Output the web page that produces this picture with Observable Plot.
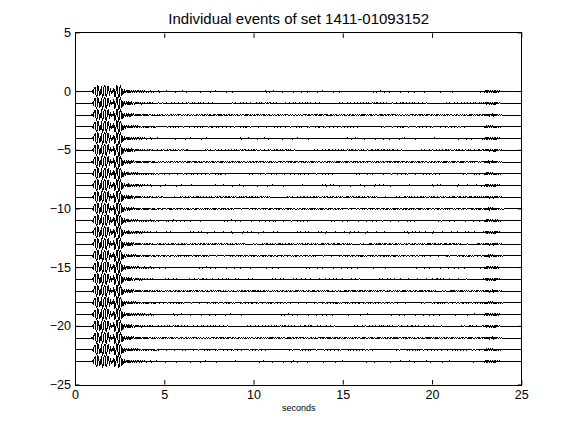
<!DOCTYPE html>
<html><head><meta charset="utf-8">
<script src="https://cdn.jsdelivr.net/npm/d3@7"></script>
<script src="https://cdn.jsdelivr.net/npm/@observablehq/plot@0.6"></script>
<style>body{margin:0;background:#fff} svg{display:block}</style>
</head><body><div id="chart"></div>
<script>
// ---- data ----
const traceOffsets = [0,-1,-2,-3,-4,-5,-6,-7,-8,-9,-10,-11,-12,-13,-14,-15,-16,-17,-18,-19,-20,-21,-22,-23];
const recordStart = 0;
const recordEnd = 24;
const axisEnd = 25;
const burstStart = 0.95, burstStep = 0.05;
const burstValues = [
  0.05, -0.15, 0.35, 0.4, -0.3, -0.45, 0.5, 0.3, -0.35,
  -0.2, 0.45, -0.5, -0.3, 0.4, 0.5, -0.35, -0.45, 0.4, 0.45,
  -0.3, 0.25, -0.15, 0.1, -0.08, 0.3, -0.45, -0.3, 0.5, 0.45, 
  -0.55, -0.4, 0.5, 0.3, -0.35, 0.15, -0.2, 0.15, -0.12, 0.12,
  -0.1, 0.14, -0.12, 0.08, -0.1, 0.12, -0.08, 0.1, -0.07, 0.08,
  -0.06, 0.09, -0.05, 0.07, -0.06, 0.05, -0.06, 0.05, -0.04, 0.06,
  -0.05, 0.04, -0.06, 0.05, -0.04, 0.03, 0.06, -0.05, 0.04, -0.05, 0.03, -0.04
];
const noiseStart = 4.55, noiseStep = 0.05;
const noiseValues = [
  0.03,-0.02,0.05,-0.04,0.01,0.04,-0.05,0.02,-0.01,0.03,
  -0.03,0.06,-0.02,0.00,0.04,-0.04,0.02,-0.03,0.05,-0.01,
  0.02,-0.05,0.03,0.01,-0.02,0.04,-0.03,0.02,-0.04,0.05,
  0.00,-0.02,0.03,-0.05,0.04,-0.01,0.02,-0.03,0.01,0.04,
  -0.02,0.03,-0.04,0.02,0.05,-0.03,0.01,-0.02,0.04,-0.05,
  0.02,0.03,-0.01,-0.04,0.05,-0.02,0.01,0.03,-0.03,0.02,
  -0.05,0.04,0.00,-0.02,0.03,-0.04,0.06,-0.01,0.02,-0.03,
  0.04,-0.02,0.01,0.05,-0.04,0.02,-0.01,0.03,-0.05,0.02,
  0.04,-0.03,0.01,-0.02,0.05,-0.04,0.03,0.00,-0.03,0.02,
  0.04,-0.05,0.01,0.03,-0.02,0.04,-0.03,0.02,-0.01,0.05,
  0.00,0.02,-0.01,0.00,0.01,-0.02,0.01,0.00,-0.01,0.02,
  0.01,-0.01,0.00,0.02,-0.02,0.01,0.00,-0.01,0.01,0.00
];
const tailStart = 22.85, tailStep = 0.05;
const tailValues = [0.04,-0.05,0.06,-0.08,0.1,-0.07,0.09,-0.1,0.08,-0.06,0.1,-0.09,0.07,-0.1,0.08,-0.05,0.06,-0.04,0.05,-0.03,0.03,-0.02];
const xTicks = [0,5,10,15,20,25];
const yTicks = [5,0,-5,-10,-15,-20,-25];
const xDomain = [0,25];
const yDomain = [-25,5];
const titleText = "Individual events of set 1411-01093152";
const xLabelText = "seconds";

// ---- build table ----
const rows = [];
traceOffsets.forEach((off, i) => {
  rows.push({trace: i, t: recordStart, y: off});
  rows.push({trace: i, t: burstStart - burstStep, y: off});
  burstValues.forEach((v, k) => rows.push({trace: i, t: burstStart + k * burstStep, y: off + v}));
  const n = Math.round((tailStart - noiseStart) / noiseStep);
  for (let k = 0; k < n; k++) {
    rows.push({trace: i, t: noiseStart + k * noiseStep, y: off + noiseValues[(k + i * 37) % noiseValues.length]});
  }
  tailValues.forEach((v, k) => rows.push({trace: i, t: tailStart + k * tailStep, y: off + v}));
  rows.push({trace: i, t: recordEnd, y: off});
  rows.push({trace: i, t: axisEnd, y: off});
});

const font = "'Liberation Sans', Arial, Helvetica, sans-serif";
const chart = Plot.plot({
  width: 576, height: 432,
  marginLeft: 75, marginRight: 54.7, marginTop: 32.4, marginBottom: 47.5,
  style: {fontFamily: font, fontSize: "12px", background: "white", color: "black", overflow: "visible"},
  x: {domain: xDomain},
  y: {domain: yDomain},
  marks: [
    Plot.line(rows, {x: "t", y: "y", z: "trace", stroke: "black", strokeWidth: 1, shapeRendering: "crispEdges"}),
    Plot.frame({stroke: "black", shapeRendering: "crispEdges"}),
    Plot.axisX({anchor: "bottom", ticks: xTicks, tickSize: -4.5, tickPadding: 10, label: null, fontSize: 12.5}),
    Plot.axisX({anchor: "top", ticks: xTicks, tickSize: -4.5, tickFormat: () => "", label: null}),
    Plot.axisY({anchor: "left", ticks: yTicks, tickSize: -4.5, tickPadding: 9, label: null, fontSize: 12.5}),
    Plot.axisY({anchor: "right", ticks: yTicks, tickSize: -4.5, tickFormat: () => "", label: null}),
    Plot.text([titleText], {text: d => d, frameAnchor: "top", dy: -20, fontSize: 15}),
    Plot.text([xLabelText], {text: d => d, frameAnchor: "bottom", dy: 26, fontSize: 9})
  ]
});
document.getElementById("chart").append(chart);
</script>
</body></html>
